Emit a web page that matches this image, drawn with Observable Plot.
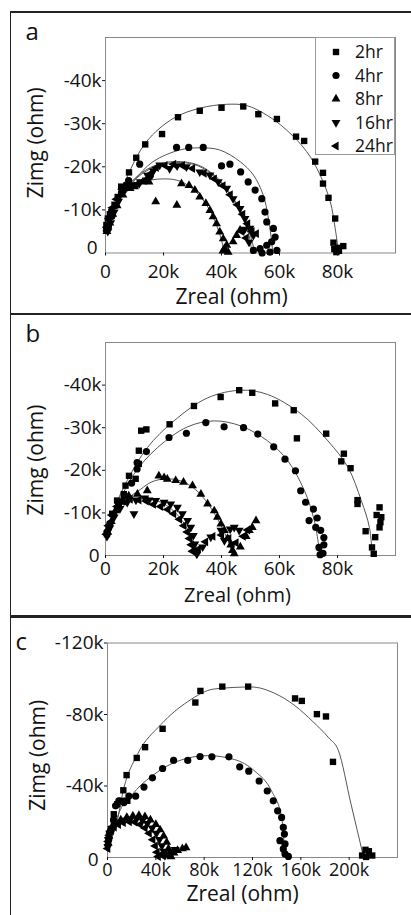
<!DOCTYPE html>
<html>
<head>
<meta charset="utf-8">
<script src="https://cdn.jsdelivr.net/npm/d3@7"></script>
<script src="https://cdn.jsdelivr.net/npm/@observablehq/plot@0.6"></script>
<style>
  body { margin: 0; background: #fff; }
  #root { position: relative; width: 411px; height: 915px; overflow: hidden; font-family: "Open Sans", sans-serif; color: #111; }
  .rule { position: absolute; background: #222; }
  .panel { position: absolute; left: 0; }
  .legend { position: absolute; box-sizing: border-box; border: 1px solid #999; background: #fff; }
</style>
</head>
<body>
<div id="root"></div>
<script>
// ---------------- DATA (kΩ; Zimg negative) ----------------
const hours = ["2hr", "4hr", "8hr", "16hr", "24hr"];

// Panel a
const a_2hr = [[0.2,-5.5],[0.3,-6.5],[0.8,-8.0],[1.5,-9.0],[2.0,-9.5],[3.1,-11.2],[4.2,-13.0],[5.4,-15.4],[7.2,-15.7],[8.1,-18.7],[10.6,-22.1],[13.7,-25.2],[19.5,-27.6],[25.0,-31.5],[32.5,-33.0],[40.0,-33.7],[47.5,-34.0],[52.7,-32.2],[59.1,-31.1],[65.7,-27.0],[68.5,-26.0],[72.3,-21.2],[75.0,-18.6],[75.0,-16.1],[76.9,-12.8],[79.2,-8.0],[78.6,-2.4],[78.9,-0.9],[79.6,-0.2],[80.3,-1.2],[82.0,-1.6],[80.5,-0.5]];
const a_4hr = [[1.0,-6.0],[2.2,-8.5],[3.5,-11.0],[5.5,-14.0],[8.0,-16.8],[11.8,-20.6],[15.2,-17.7],[24.5,-24.5],[28.7,-24.5],[33.7,-24.5],[40.0,-20.2],[42.9,-20.6],[46.6,-18.8],[49.2,-16.5],[51.6,-14.6],[53.9,-12.6],[55.0,-9.5],[55.6,-7.2],[57.9,-5.7],[58.5,-3.7],[57.3,-2.6],[51.0,-0.6],[53.3,-1.0],[55.6,-1.8],[56.7,-0.2],[59.1,-0.6],[54.0,0]];
const a_8hr = [[0.5,-5.0],[1.5,-7.0],[2.5,-9.0],[4.0,-11.0],[6.0,-13.5],[8.5,-15.0],[10.0,-15.4],[12.9,-16.5],[15.0,-16.5],[17.3,-11.9],[24.6,-11.1],[26.2,-16.1],[28.8,-15.7],[30.8,-14.6],[32.5,-13.0],[34.6,-11.5],[36.0,-9.9],[37.1,-8.4],[38.3,-6.8],[39.4,-4.9],[40.6,-3.3],[41.8,-1.8],[42.3,-0.2],[40.5,-0.5],[41.0,-1.0],[44.0,-2.6],[45.2,-4.1],[46.4,-5.3]];
const a_16hr = [[0.8,-5.0],[1.8,-7.0],[3.0,-9.5],[4.5,-12.0],[6.5,-14.5],[9.0,-15.8],[12.0,-16.5],[14.5,-18.0],[16.5,-19.0],[18.7,-20.4],[22.1,-19.6],[24.7,-20.2],[27.9,-20.0],[32.5,-18.8],[36.0,-18.1],[38.9,-16.5],[41.8,-15.0],[44.0,-12.6],[46.4,-10.3],[48.1,-8.0],[49.8,-5.7],[51.0,-4.1],[49.5,-2.5],[48.0,-5.5]];
const a_24hr = [[0.5,-6.0],[1.2,-8.0],[2.4,-10.5],[3.8,-12.5],[5.8,-14.8],[8.0,-15.5],[11.0,-16.0],[13.8,-17.0],[15.8,-18.5],[17.5,-19.8],[20.5,-20.3],[23.5,-20.6],[26.5,-20.3],[30.0,-19.6],[34.0,-18.5],[37.5,-17.2],[40.5,-15.6],[43.0,-13.5],[45.5,-11.2],[47.3,-9.0],[49.0,-6.8],[50.5,-5.0],[52.0,-4.5],[48.5,-3.5],[47.0,-5.0]];
const fit_a_2hr = [[0.3,-5.0],[2.0,-7.6],[7.2,-17.3],[14.1,-25.8],[23.3,-31.2],[32.5,-33.6],[41.8,-34.5],[48.7,-34.2],[55.6,-32.0],[62.5,-28.5],[69.4,-23.5],[74.0,-18.1],[77.5,-11.9],[79.2,-5.7],[80.4,0]];
const fit_a_4hr = [[0.5,-5.0],[3.1,-10.3],[9.5,-16.5],[16.4,-21.2],[25.6,-23.9],[32.5,-24.4],[39.4,-23.9],[46.4,-21.2],[51.0,-18.1],[54.4,-13.4],[56.2,-8.0],[57.3,-2.6],[57.7,0]];
const fit_a_8hr = [[0.5,-5.0],[3.0,-10.0],[7.0,-14.0],[12.0,-16.3],[20.0,-17.2],[26.0,-16.6],[31.0,-14.3],[35.0,-11.0],[38.0,-7.0],[40.0,-3.0],[41.0,0]];
const fit_a_16hr = [[0.5,-5.0],[3.0,-10.0],[8.0,-15.5],[14.0,-19.0],[20.0,-20.6],[26.0,-21.0],[32.0,-20.2],[38.0,-17.5],[43.0,-13.5],[47.0,-8.5],[49.5,-4.0],[50.5,0]];
const fit_a_24hr = [[0.5,-5.0],[3.0,-10.2],[8.0,-15.8],[14.0,-19.3],[20.0,-20.9],[26.0,-21.2],[32.0,-20.4],[38.0,-17.8],[43.0,-13.8],[47.5,-8.5],[50.0,-4.0],[51.5,0]];

// Panel b
const b_2hr = [[0.5,-5.0],[1.1,-6.6],[2.3,-9.8],[4.0,-12.9],[6.3,-14.4],[6.9,-16.4],[8.1,-18.7],[10.4,-18.0],[11.5,-21.5],[11.5,-24.6],[12.3,-29.3],[14.1,-29.6],[22.1,-30.8],[30.5,-35.1],[39.7,-37.2],[46.1,-38.8],[50.6,-38.2],[58.5,-35.7],[64.9,-34.1],[66.0,-27.5],[76.1,-28.6],[82.2,-23.9],[81.3,-22.1],[84.5,-20.5],[86.9,-13.0],[86.9,-12.1],[89.7,-5.7],[94.5,-11.3],[95.1,-9.0],[94.5,-6.6],[93.0,-4.3],[91.9,-1.9],[92.5,-0.4],[94.8,-7.8],[93.5,-9.5]];
const b_4hr = [[0.5,-5.5],[1.5,-7.5],[2.8,-9.5],[4.5,-12.0],[6.5,-14.0],[9.0,-17.0],[10.9,-20.3],[10.9,-21.8],[14.1,-24.4],[21.9,-27.7],[27.9,-28.7],[34.6,-31.2],[40.9,-30.2],[47.6,-30.0],[52.5,-28.5],[58.0,-25.5],[61.9,-22.6],[65.5,-19.9],[67.3,-15.2],[69.0,-12.5],[71.7,-10.9],[70.2,-8.2],[73.0,-8.8],[72.5,-6.6],[74.2,-5.9],[75.3,-4.2],[75.3,-2.5],[73.6,-1.9],[75.0,-0.5],[74.0,-0.2]];
const b_8hr = [[0.8,-5.5],[2.0,-8.0],[3.5,-10.5],[5.5,-12.5],[8.0,-14.0],[11.0,-14.4],[14.4,-15.2],[18.4,-18.7],[20.2,-18.3],[21.3,-17.9],[24.2,-17.6],[26.9,-17.2],[30.0,-16.4],[32.9,-14.4],[35.2,-12.1],[37.5,-10.5],[38.6,-9.0],[39.8,-7.4],[41.0,-5.9],[42.1,-4.0],[43.2,-2.5],[43.8,-1.2],[44.4,-0.4],[46.5,-2.0],[48.5,-4.5],[49.6,-5.9],[50.6,-6.6],[51.9,-8.2]];
const b_16hr = [[0.5,-4.5],[1.5,-6.5],[3.0,-9.0],[5.0,-11.0],[7.5,-12.5],[9.8,-9.8],[10.5,-13.0],[13.5,-13.5],[15.0,-13.0],[17.3,-12.9],[20.2,-12.5],[22.5,-12.1],[24.8,-11.3],[26.5,-9.8],[28.3,-8.2],[29.4,-6.6],[30.3,-4.7],[30.8,-2.7],[31.1,-1.2],[31.5,-0.3],[33.5,-2.0],[36.3,-4.3],[39.8,-5.9],[43.0,-6.2],[44.4,-6.6],[46.1,-5.9],[43.8,-2.7],[41.0,-3.5]];
const b_24hr = [[0.3,-5.0],[1.0,-7.0],[2.2,-9.5],[4.0,-11.5],[6.0,-12.8],[8.5,-13.2],[11.5,-13.0],[14.0,-12.8],[16.5,-12.0],[19.0,-11.5],[21.5,-10.8],[23.5,-9.8],[25.5,-8.5],[27.0,-7.0],[28.2,-5.5],[29.0,-4.0],[29.6,-2.5],[30.0,-1.0],[32.0,-1.5],[34.5,-3.2],[37.0,-4.5],[40.0,-4.8],[42.5,-4.0],[45.0,-3.0],[47.5,-4.5],[49.0,-6.0]];
const fit_b_2hr = [[0.5,-5.0],[2.3,-9.8],[7.5,-17.6],[14.4,-25.3],[23.6,-31.6],[35.2,-37.0],[46.7,-38.8],[55.9,-37.8],[67.5,-33.2],[76.7,-26.9],[83.6,-20.7],[88.2,-12.9],[91.0,-6.6],[92.0,0]];
const fit_b_4hr = [[0.5,-5.0],[2.9,-9.8],[9.8,-19.1],[17.9,-25.3],[28.3,-30.2],[37.5,-31.6],[46.7,-30.4],[55.9,-26.9],[62.9,-22.2],[68.6,-15.2],[72.0,-8.2],[74.0,0]];
const fit_b_8hr = [[0.5,-5.0],[3.0,-9.5],[7.0,-13.0],[12.0,-15.5],[16.0,-17.3],[21.0,-18.0],[26.0,-17.5],[31.0,-15.5],[35.5,-12.0],[39.5,-7.5],[42.5,-3.0],[44.0,0]];
const fit_b_16hr = [[0.5,-5.0],[3.0,-9.0],[6.5,-11.8],[10.5,-13.2],[14.0,-13.4],[18.0,-12.8],[22.0,-11.3],[25.5,-9.0],[28.5,-6.0],[30.5,-2.5],[31.2,0]];

// Panel c
const c_2hr = [[0.5,-8.0],[1.5,-12.0],[3.0,-16.0],[5.2,-24.2],[8.1,-29.8],[12.2,-31.7],[16.4,-31.7],[13.1,-37.6],[15.8,-46.1],[24.2,-55.7],[31.1,-61.7],[45.6,-72.0],[72.7,-86.7],[76.9,-93.2],[95.0,-95.6],[116.4,-95.6],[155.2,-89.0],[160.8,-87.6],[173.3,-80.2],[180.8,-78.9],[186.6,-53.5],[213.5,-4.3],[216.3,-3.5],[210.7,-1.1],[219.1,-1.1],[214.0,-0.3]];
const c_4hr = [[1.0,-10.0],[2.5,-15.0],[5.0,-21.0],[6.7,-28.9],[9.4,-31.7],[13.6,-30.7],[17.7,-34.4],[23.3,-34.3],[30.2,-39.4],[37.2,-44.6],[45.6,-49.8],[54.7,-54.3],[66.4,-54.3],[76.6,-56.5],[86.4,-56.3],[100.5,-56.3],[109.4,-50.7],[116.9,-48.3],[125.5,-42.8],[132.2,-37.2],[137.2,-31.7],[140.8,-26.1],[144.1,-22.4],[145.5,-16.8],[146.4,-13.1],[142.7,-9.4],[146.9,-7.6],[145.5,-4.8],[146.9,-2.0],[149.7,-0.6]];
const c_8hr = [[0.5,-8.0],[1.0,-12.0],[2.0,-15.0],[4.0,-17.5],[7.0,-19.5],[11.0,-21.0],[16.0,-22.5],[21.0,-23.3],[26.0,-23.5],[31.0,-22.8],[35.5,-21.0],[40.0,-18.5],[43.5,-15.5],[46.5,-12.0],[49.0,-8.5],[50.5,-5.0],[51.5,-2.0],[52.5,-0.5],[55.0,-2.5],[58.0,-4.0],[62.0,-5.0],[65.0,-5.5]];
const c_16hr = [[0.3,-6.0],[0.8,-10.0],[1.8,-13.5],[3.5,-16.0],[6.0,-18.0],[9.5,-19.5],[14.0,-20.8],[19.0,-21.5],[24.0,-21.5],[29.0,-20.8],[33.0,-19.0],[37.0,-16.5],[40.5,-13.5],[43.0,-10.0],[45.0,-6.5],[46.5,-3.5],[47.5,-1.0],[50.0,-2.0],[53.0,-3.5],[56.0,-4.5]];
const c_24hr = [[0.2,-5.0],[0.6,-9.0],[1.5,-12.5],[3.0,-15.0],[5.5,-17.0],[9.0,-18.5],[13.0,-19.5],[18.0,-20.0],[22.5,-19.8],[27.0,-18.5],[31.0,-16.5],[34.5,-13.5],[37.5,-10.0],[39.5,-6.5],[41.0,-3.0],[42.0,-0.5],[44.5,-1.5],[47.0,-2.5]];
const fit_c_2hr = [[4.0,-12.0],[6.7,-16.8],[13.6,-39.1],[24.7,-57.6],[44.1,-74.3],[66.4,-87.2],[88.5,-94.3],[119.1,-95.4],[138.5,-91.8],[155.0,-85.0],[170.0,-76.0],[183.0,-67.0],[191.0,-60.0],[201.5,-30.0],[212.0,0]];
const fit_c_4hr = [[5.0,-14.0],[8.1,-22.4],[21.9,-36.3],[38.6,-46.5],[58.1,-53.9],[83.1,-57.0],[105.2,-54.8],[121.9,-48.3],[135.8,-37.2],[144.1,-22.4],[146.9,0]];

// Axis ticks (Ω)
const ticksX_ab = [0, 20000, 40000, 60000, 80000];
const ticksY_ab = [-10000, -20000, -30000, -40000];
const ticksX_c = [0, 40000, 80000, 120000, 160000, 200000];
const ticksY_c = [-40000, -80000, -120000];

// ---------------- RENDERING ----------------
const root = document.getElementById("root");
const sqrt3 = Math.sqrt(3);
const triangleDown = { draw(ctx, size) { const y = -Math.sqrt(size / (sqrt3 * 3)); ctx.moveTo(0, -y * 2); ctx.lineTo(-sqrt3 * y, y); ctx.lineTo(sqrt3 * y, y); ctx.closePath(); } };
const triangleLeft = { draw(ctx, size) { const y = -Math.sqrt(size / (sqrt3 * 3)); ctx.moveTo(y * 2, 0); ctx.lineTo(-y, -sqrt3 * y); ctx.lineTo(-y, sqrt3 * y); ctx.closePath(); } };
const symbols = [d3.symbolSquare, d3.symbolCircle, d3.symbolTriangle, triangleDown, triangleLeft];
const radii = [3.6, 3.6, 3.3, 3.3, 3.3];

const rows = arr => arr.map(([x, y]) => ({x: x * 1000, y: y * 1000}));
const kfmt = d => d === 0 ? "0" : `${d / 1000}k`;

const panels = [
  {letter: "a", top: 0, height: 305, m: [37, 16, 52.5, 105], xd: [0, 100000], yd: [0, -50000], xt: ticksX_ab, yt: ticksY_ab,
   series: [a_2hr, a_4hr, a_8hr, a_16hr, a_24hr], fits: [fit_a_2hr, fit_a_4hr, fit_a_8hr, fit_a_16hr, fit_a_24hr],
   curve: "catmull-rom", padX: 8, tickFont: 19, labFont: 21, let: [-80, -5], ylab: [-69, -2.5], xlab: [-19, 44], zero: [-4, -5]},
  {letter: "b", top: 316, height: 290, m: [26, 16, 51, 105], xd: [0, 100000], yd: [0, -50000], xt: ticksX_ab, yt: ticksY_ab,
   series: [b_2hr, b_4hr, b_8hr, b_16hr, b_24hr], fits: [fit_b_2hr, fit_b_4hr, fit_b_8hr, fit_b_16hr],
   curve: "catmull-rom", padX: 3, tickFont: 19, labFont: 20, let: [-80, -8], ylab: [-69, 11], xlab: [-13, 40], zero: [-2, 0]},
  {letter: "c", top: 619, height: 296, m: [23.5, 14, 58, 107], xd: [0, 240000], yd: [0, -120000], xt: ticksX_c, yt: ticksY_c,
   series: [c_2hr, c_4hr, c_8hr, c_16hr, c_24hr], fits: [fit_c_2hr, fit_c_4hr],
   curve: "monotone-x", padX: 3, tickFont: 18, labFont: 21, let: [-92, -0.5], ylab: [-69.5, 5], xlab: [-10, 37], zero: [-5, 2]}
];

for (const p of panels) {
  const marks = [
    Plot.frame({stroke: "#888", strokeWidth: 1}),
    ...p.fits.map(f => Plot.line(rows(f), {x: "x", y: "y", stroke: "#555", strokeWidth: 1, curve: p.curve})),
    ...p.series.map((s, i) => Plot.dot(rows(s), {x: "x", y: "y", symbol: symbols[i], r: radii[i], fill: "#000", stroke: "none"})),
    Plot.axisX({ticks: p.xt, tickFormat: kfmt, tickSize: 3, tickPadding: p.padX, fontSize: p.tickFont, label: null}),
    Plot.axisY({ticks: p.yt, tickFormat: kfmt, tickSize: 3, tickPadding: 1, label: null}),
    Plot.axisY({ticks: [0], tickFormat: kfmt, tickSize: 0, tickPadding: 4, dx: p.zero[0], dy: p.zero[1], label: null}),
    Plot.text(["Zreal (ohm)"], {text: d => d, frameAnchor: "bottom", textAnchor: "middle", lineAnchor: "middle", dx: p.xlab[0], dy: p.xlab[1], fontSize: p.labFont}),
    Plot.text(["Zimg (ohm)"], {text: d => d, frameAnchor: "left", textAnchor: "middle", lineAnchor: "middle", rotate: -90, dx: p.ylab[0], dy: p.ylab[1], fontSize: 21}),
    Plot.text([p.letter], {text: d => d, frameAnchor: "top-left", textAnchor: "start", lineAnchor: "middle", dx: p.let[0], dy: p.let[1], fontSize: 24})
  ];
  const svg = Plot.plot({
    width: 411, height: p.height,
    marginTop: p.m[0], marginRight: p.m[1], marginBottom: p.m[2], marginLeft: p.m[3],
    x: {domain: p.xd}, y: {domain: p.yd},
    style: {fontFamily: "'Open Sans', sans-serif", fontSize: "19px", color: "#111", background: "transparent", overflow: "visible"},
    marks
  });
  const wrap = document.createElement("div");
  wrap.className = "panel";
  wrap.style.top = p.top + "px";
  wrap.appendChild(svg);
  root.appendChild(wrap);
}

// separators / borders
const rules = [
  {left: 9.5, top: 11, width: 402, height: 1.6},
  {left: 9.5, top: 11, width: 1.6, height: 904},
  {left: 9.5, top: 313.3, width: 402, height: 2.2},
  {left: 9.5, top: 615.2, width: 402, height: 2.8}
];
for (const r of rules) {
  const d = document.createElement("div");
  d.className = "rule";
  Object.assign(d.style, {left: r.left + "px", top: r.top + "px", width: r.width + "px", height: r.height + "px"});
  root.appendChild(d);
}

// legend (panel a)
const lg = document.createElement("div");
lg.className = "legend";
Object.assign(lg.style, {left: "315px", top: "37px", width: "80px", height: "118px"});
const lsvg = d3.create("svg").attr("width", 80).attr("height", 116)
  .style("position", "absolute").style("left", "0").style("top", "0").style("overflow", "visible");
hours.forEach((h, i) => {
  const yc = 14 + i * 23.5;
  lsvg.append("path").attr("transform", `translate(20,${yc})`)
    .attr("d", d3.symbol(symbols[i], Math.PI * radii[i] * radii[i])()).attr("fill", "#000");
  lsvg.append("text").attr("x", 39).attr("y", yc).attr("dy", "0.35em")
    .attr("font-family", "'Open Sans', sans-serif").attr("font-size", 17.5).attr("fill", "#111").text(h);
});
lg.appendChild(lsvg.node());
root.appendChild(lg);
</script>
</body>
</html>
